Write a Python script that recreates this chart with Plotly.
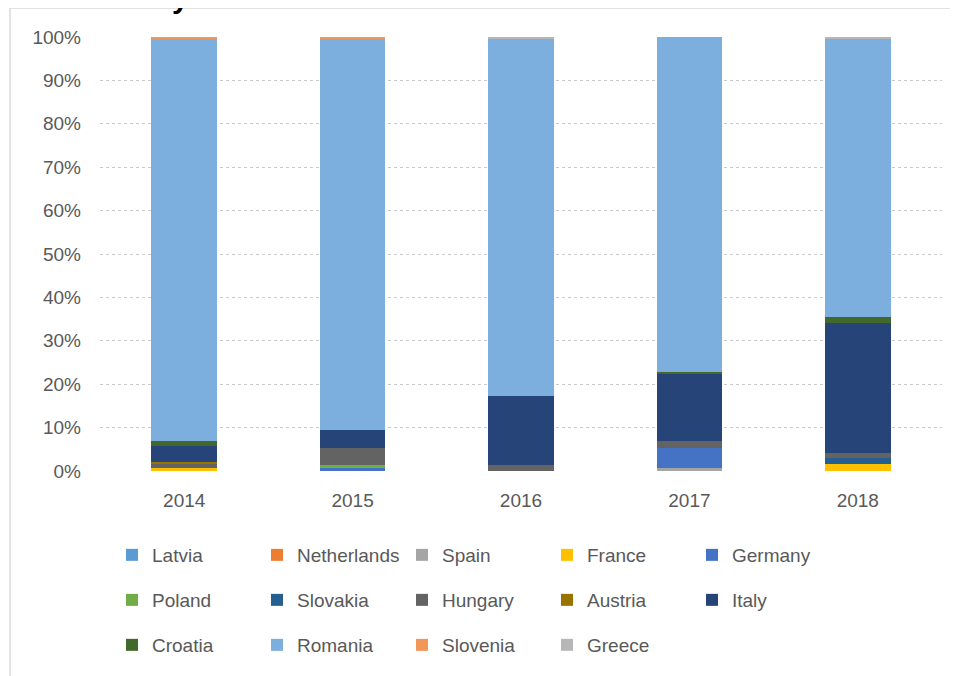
import plotly.graph_objects as go

# Years on the x axis
years = ['2014', '2015', '2016', '2017', '2018']

# Share of each country per year (percent)
latvia = [0.0, 0.0, 0.0, 0.0, 0.0]
netherlands = [0.0, 0.0, 0.0, 0.0, 0.0]
spain = [0.0, 0.0, 0.0, 0.8, 0.0]
france = [0.7, 0.0, 0.0, 0.0, 1.5]
germany = [0.0, 0.8, 0.0, 4.6, 0.0]
poland = [0.0, 0.5, 0.0, 0.0, 0.0]
slovakia = [0.0, 0.0, 0.0, 0.0, 1.6]
hungary = [1.0, 4.0, 1.4, 1.4, 1.1]
austria = [0.4, 0.0, 0.0, 0.0, 0.0]
italy = [3.7, 4.1, 15.9, 15.5, 30.0]
croatia = [1.0, 0.0, 0.0, 0.5, 1.4]
romania = [92.7, 90.1, 82.4, 77.2, 63.9]
slovenia = [0.5, 0.5, 0.0, 0.0, 0.0]
greece = [0.0, 0.0, 0.3, 0.0, 0.5]

# y axis tick labels
y_ticks = [0, 10, 20, 30, 40, 50, 60, 70, 80, 90, 100]
y_labels = ['0%', '10%', '20%', '30%', '40%', '50%', '60%', '70%', '80%', '90%', '100%']

series = [
    ('Latvia', latvia, '#5B9BD5', 'legend'),
    ('Netherlands', netherlands, '#ED7D31', 'legend'),
    ('Spain', spain, '#A5A5A5', 'legend'),
    ('France', france, '#FFC000', 'legend'),
    ('Germany', germany, '#4472C4', 'legend'),
    ('Poland', poland, '#70AD47', 'legend2'),
    ('Slovakia', slovakia, '#255E91', 'legend2'),
    ('Hungary', hungary, '#636363', 'legend2'),
    ('Austria', austria, '#997300', 'legend2'),
    ('Italy', italy, '#264478', 'legend2'),
    ('Croatia', croatia, '#43682B', 'legend3'),
    ('Romania', romania, '#7CAFDD', 'legend3'),
    ('Slovenia', slovenia, '#F1975A', 'legend3'),
    ('Greece', greece, '#B7B7B7', 'legend3'),
]

font_family = 'Liberation Sans, Arial, sans-serif'
text_color = '#595959'

fig = go.Figure()
for name, values, color, legend_id in series:
    fig.add_trace(go.Bar(
        name=name,
        x=years,
        y=values,
        marker=dict(color=color, line=dict(width=0)),
        legend=legend_id,
    ))

# window pixel geometry (page body has an 8px margin)
OFF = 8
W, H = 958 - OFF, 676 - OFF
left, right, top, bottom = 100, 942, 37, 471
pw, ph = right - left, bottom - top


def px_x(x):
    return (x - left) / pw


def px_y(y):
    return (bottom - y) / ph


legend_style = dict(
    orientation='h',
    traceorder='normal',
    entrywidth=100,
    entrywidthmode='pixels',
    x=px_x(112),
    xanchor='left',
    yanchor='middle',
    font=dict(family=font_family, size=19, color=text_color),
    bgcolor='rgba(0,0,0,0)',
)

fig.update_layout(
    width=W,
    height=H,
    barmode='stack',
    barnorm='percent',
    bargap=0.61,
    plot_bgcolor='white',
    paper_bgcolor='white',
    margin=dict(l=left - OFF, r=W - (right - OFF), t=top - OFF, b=H - (bottom - OFF)),
    font=dict(family=font_family, size=19, color=text_color),
    legend=dict(legend_style, y=px_y(555)),
    legend2=dict(legend_style, y=px_y(600)),
    legend3=dict(legend_style, y=px_y(645)),
    xaxis=dict(
        type='category',
        showgrid=False,
        showline=False,
        ticks='',
        ticklabelstandoff=16,
        tickfont=dict(size=19, color=text_color),
    ),
    yaxis=dict(
        range=[0, 100.01],
        tickmode='array',
        tickvals=y_ticks,
        ticktext=y_labels,
        showgrid=True,
        gridcolor='#C9C9C9',
        griddash='dot',
        gridwidth=1,
        zeroline=False,
        showline=False,
        ticks='',
        ticklabelstandoff=18,
        tickfont=dict(size=19, color=text_color),
    ),
    showlegend=True,
)

# outer frame of the chart (cropped at the right and bottom)
fig.add_shape(
    type='rect', xref='paper', yref='paper',
    x0=px_x(10), x1=px_x(975), y0=px_y(690), y1=px_y(8),
    line=dict(color='#D9D9D9', width=1.5),
    fillcolor='rgba(0,0,0,0)',
    layer='below',
)

# remainder of the cropped title above the frame
fig.add_annotation(
    text='<b>y</b>', xref='paper', yref='paper',
    x=px_x(180), y=px_y(16), xanchor='center', yanchor='bottom',
    showarrow=False, font=dict(family=font_family, size=30, color='black'),
)

fig.write_html('out.html')
